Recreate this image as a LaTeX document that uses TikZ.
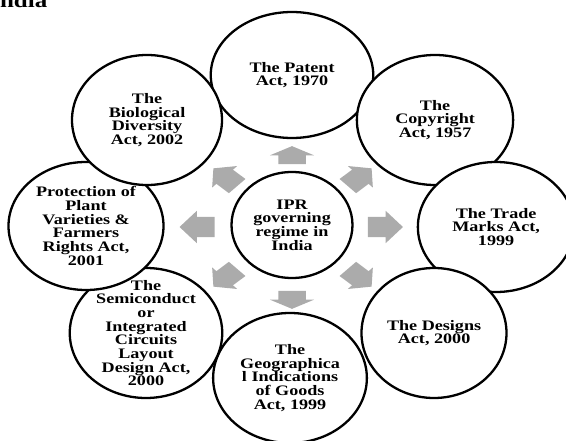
\documentclass[tikz,border=0pt]{standalone}
\usepackage{fontspec}
\setmainfont{Liberation Serif}
\usetikzlibrary{shapes.geometric}
\usetikzlibrary{shapes.arrows}

\tikzset{
    act/.style = {ellipse, draw, line width=2.3pt, fill=white, inner sep=0pt},
    acttext/.style = {align=center, inner sep=0pt, font=\fontsize{14.5}{13.7}\selectfont\bfseries},
    flow/.style = {single arrow, fill=black!33, inner xsep=0pt},
    vflow/.style = {flow, minimum height=18pt, inner ysep=10.8pt,
        single arrow head extend=6.7pt, single arrow tip angle=125},
    hflow/.style = {flow, minimum height=28pt, inner ysep=10pt,
        single arrow head extend=6pt, single arrow tip angle=99},
    dflow/.style = {flow, minimum height=26pt, inner ysep=9.5pt,
        single arrow head extend=5pt, single arrow tip angle=100}
}

\begin{document}
\begin{tikzpicture}[x=1pt, y=-1pt, xscale=1.25, transform shape]
    \clip (0,0) rectangle (452.8,441);

    % heading, cut off at the top left
    \node[anchor=base west, inner sep=0pt, font=\fontsize{20}{20}\selectfont\bfseries] (title) at (-7.9,8) {India};

    % the outer ring
    \node[act, minimum width=130pt, minimum height=126pt] (patent) at (233.6,75) {};
    \node[act, minimum width=125pt, minimum height=130pt] (copyright) at (348,120) {};
    \node[act, minimum width=125pt, minimum height=130pt] (trade) at (396.8,227) {};
    \node[act, minimum width=116pt, minimum height=130pt] (designs) at (347.2,333) {};
    \node[act, minimum width=123pt, minimum height=130pt] (geo) at (232,378) {};
    \node[act, minimum width=122pt, minimum height=130pt] (semi) at (116.8,333) {};
    \node[act, minimum width=124pt, minimum height=128pt] (plant) at (68.8,226) {};
    \node[act, minimum width=120pt, minimum height=130pt] (bio) at (117.6,120) {};

    \node[acttext] (patent-t) at (patent) {The Patent\\Act, 1970};
    \node[acttext] (copyright-t) at (copyright) {The\\Copyright\\Act, 1957};
    \node[acttext] (trade-t) at (trade) {The Trade\\Marks Act,\\1999};
    \node[acttext] (designs-t) at (designs) {The Designs\\Act, 2000};
    \node[acttext] (geo-t) at (geo) {The\\Geographica\\l Indications\\of Goods\\Act, 1999};
    \node[acttext] (semi-t) at (semi) {The\\Semiconduct\\or\\Integrated\\Circuits\\Layout\\Design Act,\\2000};
    \node[acttext] (plant-t) at (plant) {Protection of\\Plant\\Varieties \&\\Farmers\\Rights Act,\\2001};
    \node[acttext] (bio-t) at (bio) {The\\Biological\\Diversity\\Act, 2002};

    % the centre
    \node[act, minimum width=96.8pt, minimum height=106pt] (ipr) at (233.6,225) {};
    \node[acttext] (ipr-t) at (ipr) {IPR\\governing\\regime in\\India};

    % arrows round the centre
    \node[vflow, rotate=90] (to-patent) at (233.6,158) {};
    \node[dflow, rotate=43] (to-copyright) at (284.8,180) {};
    \node[hflow] (to-trade) at (304,227) {};
    \node[dflow, rotate=-43] (to-designs) at (284.8,275) {};
    \node[vflow, rotate=-90] (to-geo) at (233.6,297) {};
    \node[dflow, rotate=-137] (to-semi) at (183.2,275) {};
    \node[hflow, rotate=180] (to-plant) at (162,227) {};
    \node[dflow, rotate=137] (to-bio) at (183.2,180) {};
\end{tikzpicture}
\end{document}
